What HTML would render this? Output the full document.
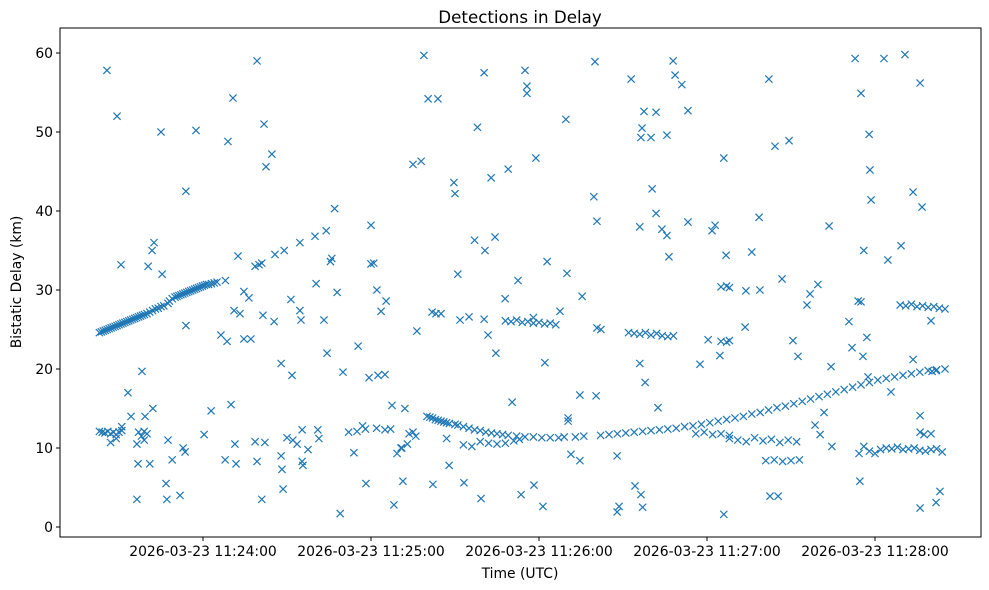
<!DOCTYPE html>
<html><head><meta charset="utf-8"><style>
body{margin:0;background:#fff;}
svg{display:block;font-family:"DejaVu Sans","Liberation Sans",sans-serif;}
</style></head><body>
<svg id="chart" width="989" height="590" viewBox="0 0 989 590">
<text x="520" y="23" font-size="16.7" text-anchor="middle">Detections in Delay</text>
<text x="520" y="578" font-size="13.9" text-anchor="middle">Time (UTC)</text>
<text x="21" y="282" font-size="13.9" text-anchor="middle" transform="rotate(-90 21 282)">Bistatic Delay (km)</text>
<g id="axes"></g>
<g id="marks"></g>
<rect x="60" y="28" width="921" height="509" fill="none" stroke="#000" stroke-width="1"/>
</svg>
<script>
// times in seconds since 11:23:00 UTC, delay in km
const trackRising = [[23,24.6],[23.7,24.7],[24.4,24.8],[25.1,24.9],[25.8,25.0],[26.5,25.1],[27.2,25.2],[27.9,25.3],[28.6,25.4],[29.3,25.5],[30,25.6],[30.7,25.7],[31.4,25.8],[32.1,25.9],[32.8,26.0],[33.5,26.1],[34.2,26.2],[34.9,26.3],[35.6,26.4],[36.3,26.5],[37,26.6],[37.7,26.7],[38.4,26.8],[39.1,26.9],[40,27.0],[41,27.2],[42,27.4],[43,27.6],[44,27.7],[45,27.9],[46,28.0],[47.5,28.3],[48,28.6],[49,28.9],[50,29.1],[50.7,29.2],[51.4,29.3],[52.1,29.4],[52.8,29.5],[53.5,29.6],[54.2,29.7],[54.9,29.8],[55.6,29.9],[56.3,30.0],[57,30.1],[57.7,30.2],[58.4,30.3],[59.1,30.4],[59.8,30.5],[60.5,30.6],[61.2,30.7],[62,30.7],[63,30.8],[64,30.9],[65,31.0],[68,31.2],[78.6,33],[80,33.2],[81,33.4],[85.7,34.5],[89,35],[94.6,36],[100,36.8],[104,37.5],[107,40.3],[106,34],[105.5,33.6]];
const trackCurve = [[140,14.0],[141,13.9],[142,13.8],[143,13.6],[144,13.5],[145,13.4],[146,13.3],[147,13.2],[148,13.1],[150,13.0],[151,12.9],[153,12.7],[155,12.5],[157,12.3],[159,12.2],[161,12.0],[163,11.9],[165,11.8],[167,11.7],[169,11.6],[172,11.5],[175,11.4],[178,11.4],[181,11.3],[184,11.3],[187,11.3],[189,11.4],[193,11.4],[196,11.5],[202,11.6],[205,11.7],[208,11.8],[211,11.9],[214,12.0],[217,12.1],[220,12.2],[223,12.3],[226,12.4],[229,12.5],[232,12.7],[235,12.8],[238,13.0],[241,13.2],[244,13.4],[247,13.6],[250,13.8],[253,14.0],[256,14.3],[259,14.5],[262,14.8],[265,15.1],[268,15.3],[271,15.6],[274,15.9],[277,16.2],[280,16.5],[283,16.8],[286,17.1],[289,17.4],[292,17.7],[295,18.0],[298,18.3],[301,18.6],[304,18.8],[307,19.0],[310,19.2],[313,19.4],[316,19.6],[319,19.8],[322,19.9],[325,20.0]];
const clusters = [[23,12.1],[24,12.0],[25,11.9],[26,12.1],[27,11.8],[28,12.0],[29,11.7],[30,12.0],[31,12.2],[27,10.7],[29,11.2],[31,12.7],[37,12.0],[38,11.5],[39,12.1],[40,11.8],[39,11.0],
[168,26.1],[170,26.0],[172,26.2],[174,25.9],[176,26.0],[178,25.8],[180,25.9],[182,25.7],[184,25.8],[186,25.6],[178,26.5],
[212,24.6],[214,24.5],[216,24.4],[218,24.6],[220,24.3],[222,24.5],[224,24.2],[226,24.1],[228,24.2],
[294,28.6],[295,28.5],[309,28.1],[311,28.0],[313,28.2],[315,27.9],[317,28.0],[319,27.8],[321,27.9],[323,27.7],[325,27.6],
[302,9.8],[304,10.0],[306,9.9],[308,10.1],[310,9.8],[312,9.9],[314,10.0],[316,9.7],[318,9.6],[320,9.8],[322,9.9],[324,9.5],[300,9.3],[298,9.6],[296,10.2],
[248,11.2],[251,11.0],[254,10.8],[257,11.3],[260,10.9],[263,11.1],[266,10.7],[269,11.0],[272,10.8],
[261,8.4],[264,8.5],[267,8.3],[270,8.4],[273,8.5],
[245,23.5],[247,23.4],[248,23.6],[245,30.4],[247,30.5],[248,30.3],
[112,12.0],[115,12.1],[118,12.4],[122,12.5],[125,12.3],[127,12.4],[117,12.8],[120,33.3],[121,33.4],
[135,12.0],[136,11.5],[133,10.5],[131,10.0],
[153,10.4],[156,10.2],[159,10.8],[162,10.6],[165,10.5],[168,10.6],[171,10.9],[173,11.1],
[236,11.8],[239,12.0],[242,11.7],[245,11.8],[248,11.6]];
const noise = [[25.7,57.8],[29.3,52],[30.7,33.2],[33.2,17],[34.3,14],[36.4,10.5],[36.4,3.5],[36.8,8],[38.2,19.7],[39.3,14],[40.4,33],[41,8],[41.8,35],[42.1,15],[42.5,36],[45,50],[45.4,32],[46.8,5.5],[47.1,3.5],[47.5,11],[49,8.5],[51.8,4],[52.9,10],[53.6,9.5],[53.9,42.5],[53.9,25.5],[57.5,50.2],[60.4,11.7],[62.9,14.7],[66.4,24.3],[67.9,8.5],[68.6,23.5],[68.9,48.8],[70,15.5],[70.7,54.3],[71.1,27.4],[71.4,10.5],[71.8,8],[72.5,34.3],[73.2,27],[74.6,23.8],[74.6,29.8],[76.4,29],[77.1,23.8],[78.6,10.8],[79.3,59],[79.3,8.3],[81,3.5],[81.4,26.8],[81.8,51],[82.1,10.7],[82.5,45.6],[84.6,47.2],[85.4,26],[87.9,20.7],[87.9,9],[88.2,7.3],[88.6,4.8],[90,11.3],[91.4,28.8],[91.8,19.2],[92.1,11],[93.6,10.5],[94.6,27.4],[95,26.2],[95.4,12.3],[95.4,8.3],[95.7,7.8],[97.5,9.8],[100.4,30.8],[101,12.3],[101.4,11.2],[103.2,26.2],[104.3,22],[107.9,29.7],[109,1.7],[110,19.6],[113.9,9.4],[115.4,22.9],[118.2,5.5],[119.3,18.9],[120,38.2],[122.1,30],[122.5,19.2],[123.6,27.3],[125,19.3],[125.4,28.6],[127.5,15.4],[128.2,2.8],[129.3,9.3],[130.7,10],[131.4,5.8],[132.1,15],[133.6,11.8],[135,45.9],[136.4,24.8],[137.9,46.3],[138.9,59.7],[140.4,54.2],[141.8,27.2],[142.1,5.4],[143.2,27],[143.9,54.2],[145,27],[147,11.2],[147.9,7.8],[149.6,43.6],[150,42.2],[151,32],[151.8,26.2],[153.2,5.6],[155,26.6],[157,36.3],[158,50.6],[159.3,3.6],[160.4,26.3],[160.7,35],[160.4,57.5],[161.8,24.3],[162.9,44.2],[164.3,36.7],[164.6,22],[167.9,28.9],[169,45.3],[170.4,15.8],[172.5,31.2],[173.6,4.1],[175,57.8],[175.7,55.8],[175.7,54.9],[178.2,5.3],[178.9,46.7],[181.4,2.6],[182.1,20.8],[182.9,33.6],[187.5,27.3],[189.6,51.6],[190,32.1],[190.4,13.8],[190.4,13.4],[191.4,9.2],[194.6,8.4],[194.6,16.7],[195.4,29.2],[199.6,41.8],[200,58.9],[200.4,16.6],[200.7,38.7],[200.7,25.2],[202.1,25],[207.9,1.9],[208.6,2.6],[207.9,9],[212.9,56.7],[214.3,5.2],[216,38],[216,20.7],[216.4,4.1],[217,2.5],[216.4,49.3],[216.8,50.5],[217.5,52.6],[217.9,18.3],[220,49.3],[220.4,42.8],[221.8,52.5],[221.8,39.7],[222.5,15.1],[223.9,37.7],[225.7,49.6],[225.7,36.9],[226.4,34.2],[227.9,59],[228.6,57.2],[231,56],[233.2,52.7],[233.2,38.6],[237.5,20.6],[240.4,23.7],[241.8,37.5],[242.9,38.2],[244.6,21.7],[246,1.6],[246,46.7],[246.8,34.4],[253.6,25.3],[253.9,29.9],[256,34.8],[258.6,39.2],[258.9,30],[262.1,56.7],[262.5,3.9],[264.3,48.2],[265.4,3.9],[266.8,31.4],[269.3,48.9],[270.7,23.6],[272.5,21.6],[275.7,28.1],[276.8,29.5],[278.6,12.9],[279.6,30.7],[280.4,11.7],[281.8,14.5],[283.6,38.1],[284.6,10.2],[284.3,20.3],[290.7,26],[291.8,22.7],[292.9,59.3],[294.3,9.3],[294.6,5.8],[295,54.9],[295.7,21.6],[296,35],[297.1,24],[297.9,49.7],[298.2,45.2],[298.6,41.4],[297.5,19],[303.2,59.3],[304.6,33.8],[305.7,17.1],[309.3,35.6],[310.7,59.8],[313.6,42.4],[313.6,21.2],[316.1,56.2],[316.1,2.4],[316.1,14.1],[316.8,40.5],[316.1,12],[320,26.1],[320,11.8],[321.8,3.1],[323.2,4.5],[320.4,19.7],[321.8,19.8],[317.5,11.7]];
const xTickSeconds = [60,120,180,240,300];
const xTickLabels = ["2026-03-23 11:24:00","2026-03-23 11:25:00","2026-03-23 11:26:00","2026-03-23 11:27:00","2026-03-23 11:28:00"];
const yTicks = [0,10,20,30,40,50,60];

const NS="http://www.w3.org/2000/svg";
function xScale(t){return 203+(t-60)*2.8;}
function yScale(v){return 527-7.9*v;}
const axes=document.getElementById('axes');
const marks=document.getElementById('marks');
function mk(tag,attrs,parent){const e=document.createElementNS(NS,tag);for(const k in attrs)e.setAttribute(k,attrs[k]);parent.appendChild(e);return e;}
xTickSeconds.forEach((t,i)=>{
  const x=xScale(t);
  const l=mk('line',{x1:x,x2:x,y1:537,y2:541,stroke:'#000'},axes);
  
  
  const tx=mk('text',{x:x,y:556,'font-size':13.9,'text-anchor':'middle'},axes);
  tx.textContent=xTickLabels[i];
  
  
});
yTicks.forEach(v=>{
  const y=yScale(v);
  const l=mk('line',{x1:56,x2:60,y1:y,y2:y,stroke:'#000'},axes);
  
  
  const tx=mk('text',{x:53,y:y+5,'font-size':13.9,'text-anchor':'end'},axes);
  tx.textContent=String(v);
  
  
});
const all=trackRising.concat(trackCurve,clusters,noise);
all.forEach(p=>{
  const x=xScale(p[0]),y=yScale(p[1]),r=3.6;
  const pth=mk('path',{d:`M${x-r} ${y-r}L${x+r} ${y+r}M${x-r} ${y+r}L${x+r} ${y-r}`,stroke:'#1f77b4','stroke-width':1.2,fill:'none'},marks);
  
  
});
</script>
</body></html>
